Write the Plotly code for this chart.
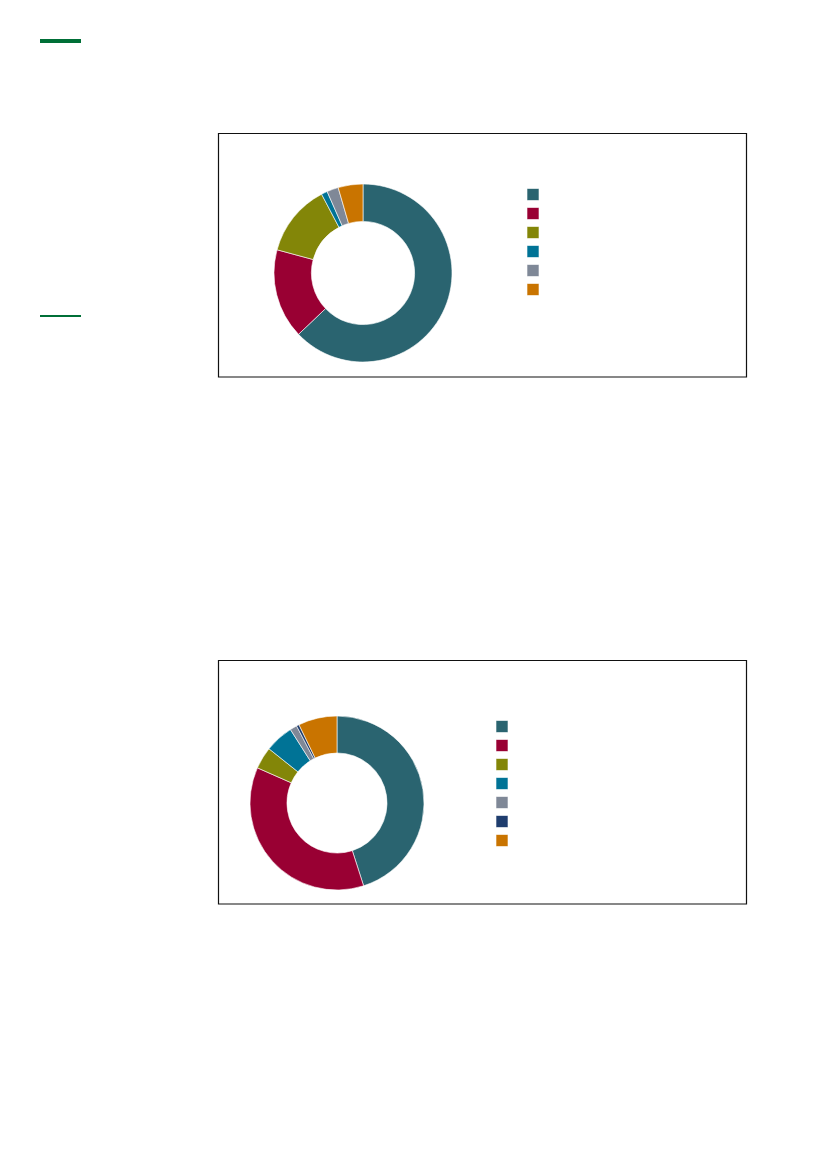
import plotly.graph_objects as go

# ---- data ----
cats_top = [" ", "  ", "   ", "    ", "     ", "      "]
vals_top = [62.9, 16.3, 13.1, 1.1, 2.1, 4.5]
colors_top = ["#2A6470", "#990033", "#838608", "#007396", "#7F8897", "#C97400"]

cats_bot = ["\u2002", "\u2002\u2002", "\u2002\u2002\u2002", "\u2002\u2002\u2002\u2002",
            "\u2002\u2002\u2002\u2002\u2002", "\u2002\u2002\u2002\u2002\u2002\u2002",
            "\u2002\u2002\u2002\u2002\u2002\u2002\u2002"]
vals_bot = [45.1, 36.6, 4.1, 5.3, 1.3, 0.5, 7.2]
colors_bot = ["#2A6470", "#990033", "#838608", "#007396", "#7F8897", "#1F3D6E", "#C97400"]

W, H = 827, 1169
OFF = 8  # page body margin of the viewer

def px_x(v):
    return (v - OFF) / W

def px_y(v):
    return 1 - (v - OFF) / H

fig = go.Figure()

# top donut: centre (363, 273), radius 89
fig.add_trace(go.Pie(
    labels=cats_top, values=vals_top, sort=False, direction="clockwise", rotation=0,
    hole=0.58, textinfo="none", hoverinfo="percent",
    marker=dict(colors=colors_top, line=dict(color="white", width=0.6)),
    domain=dict(x=[px_x(274), px_x(452)], y=[px_y(362), px_y(184)]),
    legend="legend",
))

# bottom donut: centre (337, 803), radius 87
fig.add_trace(go.Pie(
    labels=cats_bot, values=vals_bot, sort=False, direction="clockwise", rotation=0,
    hole=0.575, textinfo="none", hoverinfo="percent",
    marker=dict(colors=colors_bot, line=dict(color="white", width=0.6)),
    domain=dict(x=[px_x(250), px_x(424)], y=[px_y(890), px_y(716)]),
    legend="legend2",
))

shapes = [
    # chart frames
    dict(type="rect", xref="paper", yref="paper", x0=px_x(218.5), x1=px_x(746.5),
         y0=px_y(377), y1=px_y(133.5), line=dict(color="#111111", width=1.2)),
    dict(type="rect", xref="paper", yref="paper", x0=px_x(218.5), x1=px_x(746.5),
         y0=px_y(904), y1=px_y(660.5), line=dict(color="#111111", width=1.2)),
    # green rules on the left
    dict(type="rect", xref="paper", yref="paper", x0=px_x(40), x1=px_x(81),
         y0=px_y(43), y1=px_y(39), line=dict(width=0), fillcolor="#006F37"),
    dict(type="rect", xref="paper", yref="paper", x0=px_x(40), x1=px_x(81),
         y0=px_y(317), y1=px_y(315), line=dict(width=0), fillcolor="#006F37"),
]

fig.update_layout(
    width=W, height=H,
    margin=dict(l=0, r=0, t=0, b=0),
    paper_bgcolor="white", plot_bgcolor="white",
    font=dict(family="Liberation Sans, Arial, sans-serif", size=10, color="#000000"),
    shapes=shapes,
    legend=dict(x=px_x(513), y=px_y(180), xanchor="left", yanchor="top",
                bgcolor="rgba(0,0,0,0)", font=dict(size=10), tracegroupgap=0,
                itemclick=False),
    legend2=dict(x=px_x(482), y=px_y(712), xanchor="left", yanchor="top",
                 bgcolor="rgba(0,0,0,0)", font=dict(size=10), tracegroupgap=0,
                 itemclick=False),
)

fig.write_html("out.html")
